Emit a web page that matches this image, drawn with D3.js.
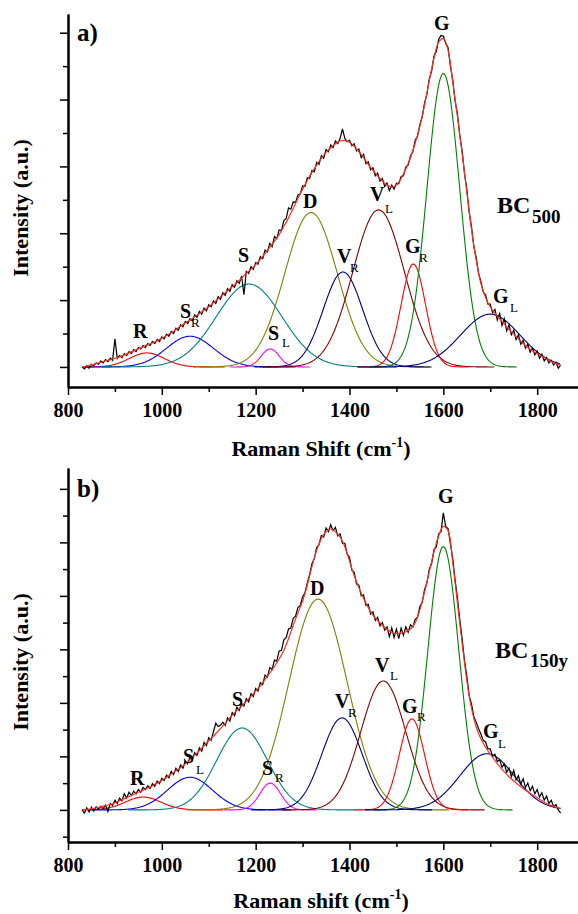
<!DOCTYPE html>
<html>
<head>
<meta charset="utf-8">
<script src="https://cdn.jsdelivr.net/npm/d3@7"></script>
<style>
  body { margin: 0; background: #fff; }
  svg { display: block; font-family: "Liberation Serif", "Times New Roman", serif; }
</style>
</head>
<body>
<div id="chart"></div>
<script>
// measured spectra start at 830 cm-1, raw points every 5 cm-1, fit every 10 cm-1
var specStart = 830, specStep = 5, fitStep = 10;

var spectrumA = [
  0.00,-0.03,0.02,-0.02,0.04,0.02,0.06,0.04,0.09,0.06,0.11,0.08,0.13,0.10,0.42,0.13,0.17,0.14,0.20,0.17,
  0.23,0.20,0.26,0.23,0.29,0.27,0.32,0.29,0.35,0.32,0.38,0.35,0.41,0.38,0.45,0.42,0.49,0.46,0.53,0.50,
  0.58,0.55,0.63,0.60,0.68,0.65,0.72,0.69,0.78,0.74,0.83,0.79,0.88,0.84,0.93,0.90,0.99,0.95,1.05,1.01,
  1.11,1.07,1.17,1.13,1.23,1.19,1.29,1.25,1.36,1.08,1.43,1.40,1.50,1.46,1.56,1.54,1.65,1.62,1.75,1.72,
  1.85,1.80,1.95,1.92,2.05,2.04,2.19,2.22,2.38,2.36,2.47,2.46,2.57,2.59,2.71,2.70,2.83,2.82,2.94,2.92,
  3.06,3.03,3.16,3.12,3.25,3.22,3.32,3.28,3.38,3.34,3.42,3.56,3.42,3.37,3.39,3.31,3.34,3.23,3.26,3.13,
  3.18,3.04,3.07,2.95,2.98,2.86,2.90,2.78,2.82,2.70,2.75,2.64,2.72,2.66,2.75,2.74,2.85,2.86,2.99,3.02,
  3.16,3.22,3.39,3.45,3.63,3.74,3.95,4.08,4.31,4.42,4.65,4.72,4.90,4.96,4.95,4.84,4.78,4.50,4.30,3.98,
  3.79,3.46,3.24,2.90,2.66,2.32,2.10,1.80,1.64,1.40,1.28,1.12,1.08,0.94,0.94,0.81,0.86,0.70,0.80,0.62,
  0.72,0.54,0.63,0.48,0.55,0.41,0.48,0.34,0.40,0.28,0.34,0.22,0.28,0.18,0.24,0.13,0.19,0.09,0.14,0.06,
  0.10,0.03,0.07,-0.02,0.03
];
var fitA = [
  0.00,0.01,0.03,0.05,0.07,0.09,0.11,0.13,0.15,0.18,0.21,0.24,0.27,0.30,0.33,0.36,0.39,0.43,0.47,0.51,
  0.56,0.61,0.66,0.70,0.75,0.80,0.85,0.90,0.96,1.02,1.08,1.14,1.20,1.26,1.33,1.40,1.46,1.53,1.61,1.70,
  1.79,1.88,1.98,2.10,2.23,2.37,2.52,2.66,2.79,2.91,3.02,3.12,3.21,3.28,3.34,3.38,3.39,3.36,3.30,3.22,
  3.13,3.03,2.94,2.86,2.78,2.72,2.69,2.72,2.82,2.96,3.13,3.35,3.60,3.92,4.28,4.62,4.86,4.91,4.74,4.26,
  3.75,3.20,2.62,2.06,1.60,1.25,1.04,0.90,0.80,0.72,0.64,0.56,0.49,0.42,0.35,0.29,0.24,0.20,0.16,0.12,
  0.08,0.05,0.02
];

var spectrumB = [
  0.00,-0.06,0.04,-0.04,0.05,-0.02,0.06,0.01,0.07,0.02,0.09,-0.03,0.12,0.08,0.18,0.12,0.22,0.17,0.30,0.22,
  0.33,0.27,0.35,0.30,0.38,0.33,0.42,0.38,0.45,0.40,0.49,0.44,0.54,0.49,0.59,0.55,0.65,0.60,0.72,0.66,
  0.78,0.72,0.84,0.78,0.91,0.86,0.99,0.94,1.07,1.02,1.16,1.10,1.26,1.20,1.35,1.30,1.46,1.62,1.56,1.58,
  1.64,1.58,1.72,1.66,1.82,1.76,1.92,1.86,1.99,1.94,2.08,2.02,2.17,2.12,2.27,2.22,2.38,2.34,2.52,2.48,
  2.66,2.62,2.80,2.78,2.97,2.98,3.18,3.22,3.38,3.40,3.58,3.62,3.78,3.82,3.98,4.06,4.24,4.40,4.60,4.70,
  4.90,4.96,5.13,5.10,5.27,5.20,5.33,5.22,5.28,5.12,5.16,4.98,4.98,4.78,4.72,4.48,4.44,4.22,4.20,4.00,
  4.02,3.82,3.84,3.66,3.70,3.54,3.60,3.44,3.50,3.36,3.42,3.24,3.40,3.22,3.38,3.20,3.40,3.26,3.42,3.32,
  3.46,3.42,3.56,3.60,3.80,3.88,4.12,4.24,4.50,4.60,4.86,4.92,5.16,5.20,5.55,5.30,5.26,4.98,4.70,4.30,
  3.96,3.56,3.20,2.80,2.50,2.14,1.98,1.74,1.64,1.52,1.42,1.30,1.27,1.14,1.14,1.00,1.04,0.90,0.94,0.80,
  0.86,0.70,0.78,0.62,0.74,0.56,0.64,0.48,0.58,0.42,0.50,0.36,0.44,0.30,0.38,0.24,0.32,0.18,0.26,0.12,
  0.18,0.06,0.10,0.00,-0.06
];
var fitB = [
  0.00,0.01,0.02,0.04,0.06,0.08,0.10,0.13,0.17,0.21,0.25,0.29,0.33,0.37,0.41,0.45,0.50,0.55,0.61,0.67,
  0.73,0.79,0.86,0.94,1.02,1.11,1.20,1.29,1.38,1.47,1.57,1.67,1.77,1.86,1.94,2.03,2.12,2.22,2.32,2.44,
  2.56,2.68,2.82,2.98,3.20,3.45,3.68,3.90,4.20,4.55,4.85,5.07,5.20,5.25,5.20,5.10,4.92,4.65,4.38,4.15,
  3.95,3.78,3.64,3.54,3.45,3.37,3.32,3.30,3.30,3.33,3.38,3.50,3.74,4.07,4.45,4.82,5.12,5.30,5.22,4.62,
  3.87,3.12,2.42,1.90,1.55,1.33,1.17,1.04,0.92,0.81,0.71,0.62,0.54,0.47,0.40,0.34,0.28,0.23,0.17,0.12,
  0.08,0.05,0.03
];

// fitted bands (centre cm-1, height, gaussian sigma cm-1)
var bandColors = ["#ff0000","#0000ff","#008080","#ff00ff","#808000","#000080","#800000","#ff0000","#008000","#000080"];

var centersA = [968, 1060, 1186, 1231, 1318, 1386, 1462, 1536, 1600, 1700];
var heightsA = [0.21, 0.46, 1.24, 0.27, 2.31, 1.42, 2.35, 1.54, 4.39, 0.79];
var sigmasA  = [37, 50, 70, 19, 56, 42, 55, 26, 35, 63];

var centersB = [960, 1060, 1171, 1231, 1333, 1384, 1472, 1533, 1600, 1693];
var heightsB = [0.24, 0.61, 1.53, 0.50, 3.94, 1.72, 2.41, 1.70, 4.92, 1.05];
var sigmasB  = [38, 48, 54, 22, 62, 43, 48, 27, 33, 58];

var xMajor = [800, 1000, 1200, 1400, 1600, 1800];
var xMinor = [900, 1100, 1300, 1500, 1700];

// label layout: [main, sub, x, y, subX, subY]
var labelsA = [
  ["R", "", 133, 338], ["S", "R", 180, 318, 191, 327], ["S", "", 238, 262],
  ["S", "L", 268, 340, 282, 347], ["D", "", 303, 208], ["V", "R", 337, 263, 350, 272],
  ["V", "L", 370, 201, 385, 213], ["G", "R", 405, 253, 419, 262], ["G", "", 434, 30],
  ["G", "L", 493, 303, 510, 312]
];
var labelsB = [
  ["R", "", 130, 785], ["S", "L", 183, 763, 196, 774], ["S", "", 232, 706],
  ["S", "R", 262, 775, 275, 782], ["D", "", 310, 595], ["V", "R", 335, 708, 348, 717],
  ["V", "L", 375, 672, 390, 680], ["G", "R", 402, 713, 417, 721], ["G", "", 438, 503],
  ["G", "L", 483, 738, 498, 748]
];

var svg = d3.select("#chart").append("svg")
  .attr("width", 578)
  .attr("height", 914);

function drawPanel(p) {
  var x = d3.scaleLinear().domain([800, 1887]).range([68, 578]);
  var y = d3.scaleLinear().domain(p.yDomain).range([p.bottom, p.top]);
  var g = svg.append("g");

  var line = d3.line()
    .x(function(d) { return x(d[0]); })
    .y(function(d) { return y(d[1]); });

  // fitted gaussian bands
  p.centers.forEach(function(c, i) {
    var s = p.sigmas[i], h = p.heights[i];
    var lo = Math.max(830, c - 4.5 * s), hi = Math.min(1850, c + 4.5 * s);
    var pts = d3.range(lo, hi + 0.01, 2).map(function(w) {
      return [w, h * Math.exp(-(w - c) * (w - c) / (2 * s * s))];
    });
    g.append("path")
      .datum(pts)
      .attr("d", line)
      .attr("fill", "none")
      .attr("stroke", bandColors[i])
      .attr("stroke-width", 1.1);
  });

  // raw spectrum
  g.append("path")
    .datum(p.spectrum.map(function(v, i) { return [specStart + i * specStep, v]; }))
    .attr("d", line)
    .attr("fill", "none")
    .attr("stroke", "#000")
    .attr("stroke-width", 1.2);

  // cumulative fit
  g.append("path")
    .datum(p.fit.map(function(v, i) { return [specStart + i * fitStep, v]; }))
    .attr("d", line.curve(d3.curveCatmullRom))
    .attr("fill", "none")
    .attr("stroke", "#ff3020")
    .attr("stroke-width", 1.2);

  // axes
  var yMajor = d3.range(0, p.yDomain[1], 1);
  var yMinor = d3.range(p.yDomain[0] < -0.5 ? -0.5 : 0.5, p.yDomain[1], 1);

  g.append("g").attr("class", "ax")
    .attr("transform", "translate(68,0)")
    .call(d3.axisLeft(y).tickValues(yMinor).tickSize(5).tickFormat("").tickSizeOuter(0));
  g.append("g").attr("class", "ax")
    .attr("transform", "translate(68,0)")
    .call(d3.axisLeft(y).tickValues(yMajor).tickSize(8).tickFormat("").tickSizeOuter(0));

  g.append("g").attr("class", "ax")
    .attr("transform", "translate(0," + p.bottom + ")")
    .call(d3.axisBottom(x).tickValues(xMinor).tickSize(5).tickFormat("").tickSizeOuter(0));
  g.append("g").attr("class", "ax")
    .attr("transform", "translate(0," + p.bottom + ")")
    .call(d3.axisBottom(x).tickValues(xMajor).tickSize(8).tickPadding(8)
      .tickFormat(d3.format("d")).tickSizeOuter(0));

  g.selectAll(".ax path").attr("stroke", "#000").attr("stroke-width", 2);
  g.selectAll(".ax line").attr("stroke", "#000").attr("stroke-width", 1.5);
  g.selectAll(".ax text")
    .attr("font-family", "Liberation Serif, serif")
    .attr("font-size", 20)
    .attr("font-weight", "bold")
    .attr("fill", "#000");

  // band labels
  p.labels.forEach(function(l) {
    g.append("text")
      .attr("x", l[2]).attr("y", l[3])
      .attr("font-size", 20).attr("font-weight", "bold")
      .text(l[0]);
    if (l[1]) {
      g.append("text")
        .attr("x", l[4]).attr("y", l[5])
        .attr("font-size", 13)
        .text(l[1]);
    }
  });

  // sample name
  g.append("text")
    .attr("x", p.tag[0]).attr("y", p.tag[1])
    .attr("font-size", 24).attr("font-weight", "bold")
    .text("BC");
  g.append("text")
    .attr("x", p.tag[2]).attr("y", p.tag[3])
    .attr("font-size", 19).attr("font-weight", "bold")
    .text(p.sample);

  // panel letter
  g.append("text")
    .attr("x", 77).attr("y", p.letterY)
    .attr("font-size", 25).attr("font-weight", "bold")
    .text(p.letter);

  // axis titles
  var xt = g.append("text")
    .attr("x", 321).attr("y", p.titleY)
    .attr("text-anchor", "middle")
    .attr("font-size", 22).attr("font-weight", "bold");
  xt.append("tspan").text(p.xTitle + " (cm");
  xt.append("tspan").attr("dy", -9).attr("font-size", 14).text("-1");
  xt.append("tspan").attr("dy", 9).text(")");

  g.append("text")
    .attr("transform", "translate(28," + p.yTitleMid + ") rotate(-90)")
    .attr("text-anchor", "middle")
    .attr("font-size", 22).attr("font-weight", "bold")
    .text("Intensity (a.u.)");
}

drawPanel({
  yDomain: [-0.3, 5.28], top: 14, bottom: 387,
  spectrum: spectrumA, fit: fitA,
  centers: centersA, heights: heightsA, sigmas: sigmasA,
  labels: labelsA, tag: [497, 213, 532, 223], sample: "500",
  letter: "a)", letterY: 41, titleY: 456, xTitle: "Raman Shift", yTitleMid: 208
});

drawPanel({
  yDomain: [-0.6, 6.39], top: 468, bottom: 842,
  spectrum: spectrumB, fit: fitB,
  centers: centersB, heights: heightsB, sigmas: sigmasB,
  labels: labelsB, tag: [495, 658, 530, 667], sample: "150y",
  letter: "b)", letterY: 497, titleY: 908, xTitle: "Raman shift", yTitleMid: 662
});
</script>
</body>
</html>
